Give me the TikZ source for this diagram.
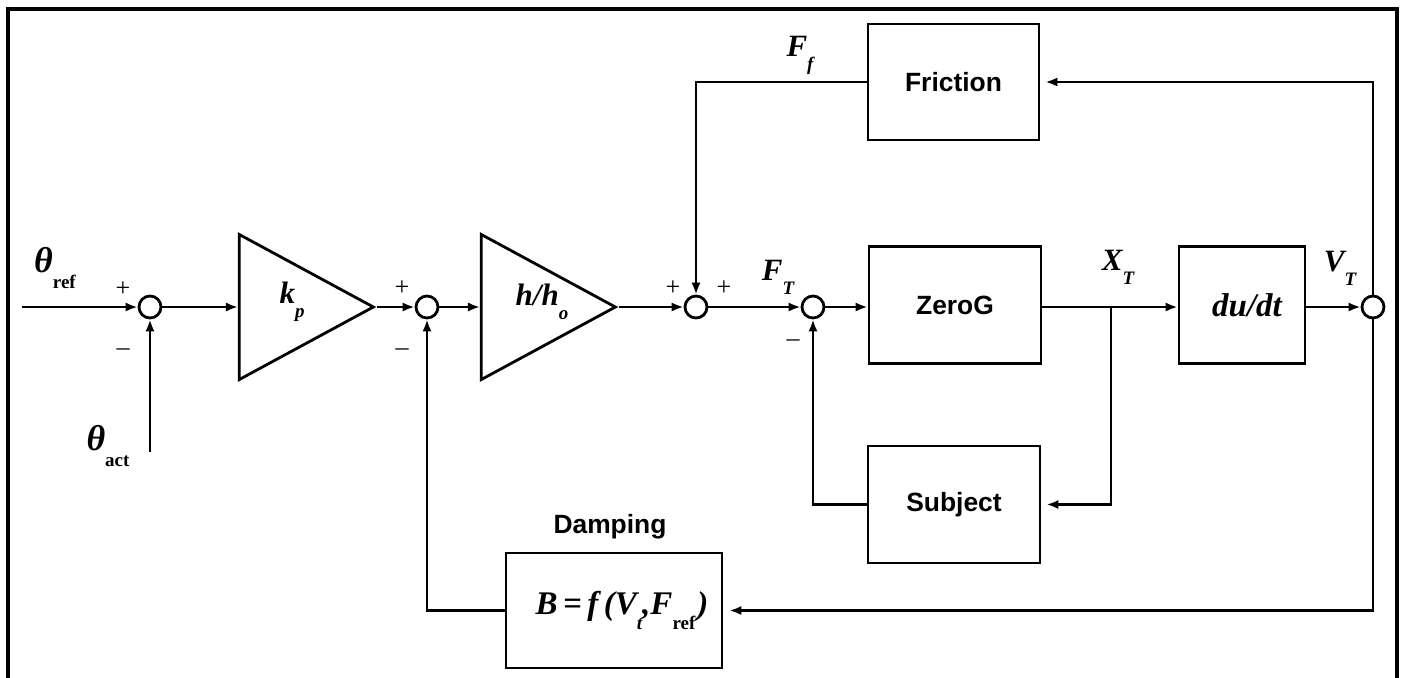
\documentclass[tikz,border=0pt]{standalone}
\usepackage{fontspec}
\setmainfont{Liberation Serif}
\setsansfont{Liberation Sans}
\usetikzlibrary{arrows.meta,calc,shapes.geometric}
\newcommand{\lowsub}[1]{\raisebox{-.45em}{\fontsize{9.5}{10}\selectfont #1}}

\begin{document}
\begin{tikzpicture}[x=0.5pt,y=-0.5pt,line width=1.4pt,
  sig/.style={-{Latex[length=6pt,width=4.6pt]}},
  sum/.style={circle,draw,fill=white,minimum size=11pt,inner sep=0pt},
  amp/.style={draw,isosceles triangle,isosceles triangle stretches,shape border rotate=0,
    minimum width=72.5pt,minimum height=67pt,inner sep=0pt,anchor=apex},
  blk/.style={draw,minimum width=#1,minimum height=58.5pt,inner sep=0pt,
    font=\sffamily\bfseries\fontsize{13.2}{15}\selectfont},
  var/.style={font=\bfseries\itshape\fontsize{15.5}{17}\selectfont,inner sep=0pt},
  sgn/.style={font=\fontsize{13}{14}\selectfont,inner sep=0pt}]
\useasboundingbox (0,0) rectangle (1403,677);
\draw[line width=1.6pt] (8,680) -- (8,9) -- (1397,9) -- (1397,680);

\node[sum] (sum1) at (150,307) {};
\node[sum] (sum2) at (427,307) {};
\node[sum] (sum3) at (696,307) {};
\node[sum] (sumT) at (813,307) {};
\node[sum] (sum4) at (1373,307) {};

\node[amp] (kp) at (377,307) {};
\node[amp] (hho) at (619,307) {};
\node[var] (kplbl) at (292,302) {k\lowsub{p}};
\node[var] (hholbl) at (542,302) {h/h\lowsub{o}};

\node[blk=85.5pt,minimum height=58pt] (frict) at (953.5,82) {Friction};
\node[blk=86pt] (zerog) at (955,305) {ZeroG};
\node[blk=86pt] (subj) at (954,504.5) {Subject};
\node[blk=63pt,var,font=\bfseries\itshape\fontsize{16.5}{18}\selectfont] (dudt) at (1242,305) {\hspace{5pt}du/dt};
\node[blk=108pt,minimum height=57.5pt,var,font=\bfseries\itshape\fontsize{16.5}{18}\selectfont] (damp) at (614,610.5)
  {\hspace{8pt}B\,=\,f\,(V\lowsub{t},F\lowsub{\upshape ref}\kern1pt)};
\node[font=\sffamily\bfseries\fontsize{13.2}{15}\selectfont] (damplbl) at (610,527) {Damping};

\coordinate (in) at (22,307);
\coordinate (act) at (150,452);
\coordinate (br) at (1111,307);

\draw[sig] (in) -- (sum1);
\draw[sig] (act) -- (sum1);
\draw[sig] (sum1) -- (kp.lower side);
\draw[sig] (kp.apex) -- (sum2);
\draw[sig] (sum2) -- (hho.lower side);
\draw[sig] (hho.apex) -- (sum3);
\draw[sig] (sum3) -- (sumT);
\draw[sig] (sumT) -- (sumT -| zerog.west);
\draw (zerog.east |- br) -- (br);
\draw[sig] (br) -- (br -| dudt.west);
\draw[sig,shorten >=2.5pt] (br) |- (subj.east);
\draw[sig] (subj.west) -| (sumT.south);
\draw[sig] (dudt.east |- sum4) -- (sum4);
\draw[sig,shorten >=2.5pt] (sum4.north) |- (frict.east);
\draw[sig] (frict.west) -| (sum3.north);
\draw[sig,shorten >=3pt] (sum4.south) |- (damp.east);
\draw[sig] (damp.west) -| (sum2.south);

\node[var,font=\bfseries\itshape\fontsize{18}{20}\selectfont] (thref) at (55,268) {θ\lowsub{\upshape ref}};
\node[var,font=\bfseries\itshape\fontsize{18}{20}\selectfont] (thact) at (108,446) {θ\lowsub{\upshape act}};
\node[var] (ff) at (800,55) {F\lowsub{f}};
\node[var] (ft) at (778,277) {F\lowsub{T}};
\node[var] (xt) at (1118,267) {X\lowsub{T}};
\node[var] (vt) at (1340,268) {V\lowsub{T}};

\node[sgn] (p1) at (123,289) {+};
\node[sgn] (m1) at (123,352) {--};
\node[sgn] (p2) at (402,288) {+};
\node[sgn] (m2) at (402,352) {--};
\node[sgn] (p3) at (673,288) {+};
\node[sgn] (p4) at (724,288) {+};
\node[sgn] (m3) at (793,343) {--};

\end{tikzpicture}
\end{document}
